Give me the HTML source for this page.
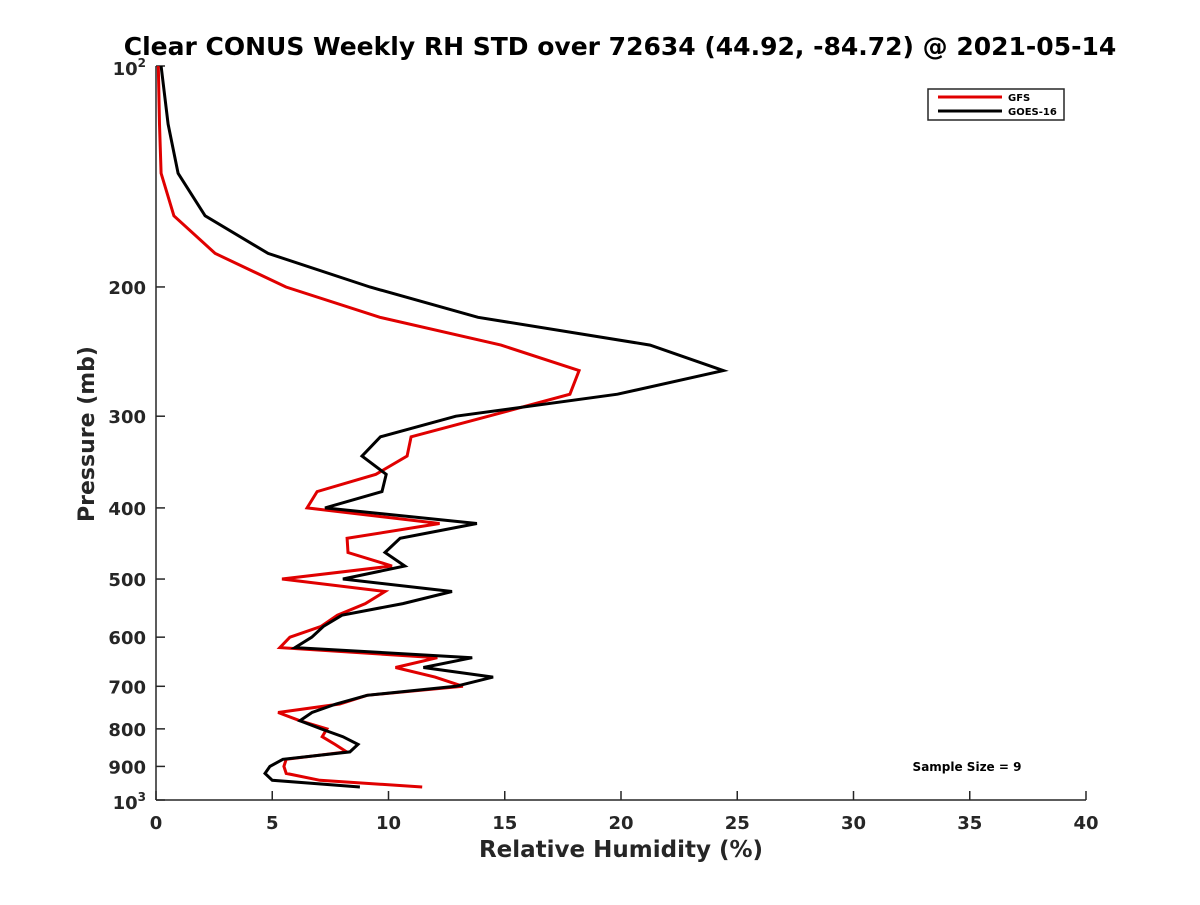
<!DOCTYPE html>
<html><head><meta charset="utf-8"><style>
body{margin:0;background:#fff}
svg text{font-family:"DejaVu Sans","Liberation Sans",sans-serif;font-weight:bold}
</style></head><body>
<svg width="1200" height="900" viewBox="0 0 1200 900" id="c">
<rect width="1200" height="900" fill="#fff"/>
<text x="620" y="55" font-size="25" text-anchor="middle" fill="#000">Clear CONUS Weekly RH STD over 72634 (44.92, -84.72) @ 2021-05-14</text>
<g id="axes"></g>
<g id="series"></g>
<text x="621" y="857" font-size="23" text-anchor="middle" fill="#262626">Relative Humidity (%)</text>
<text transform="translate(94,434) rotate(-90)" font-size="22" text-anchor="middle" fill="#262626">Pressure (mb)</text>
<g>
<rect x="928" y="89" width="136" height="31" fill="#fff" stroke="#262626" stroke-width="1.5"/>
<line x1="938" y1="97" x2="1002" y2="97" stroke="#e00000" stroke-width="3"/>
<text x="1008" y="101" font-size="10">GFS</text>
<line x1="938" y1="111" x2="1002" y2="111" stroke="#000" stroke-width="3"/>
<text x="1008" y="115" font-size="10">GOES-16</text>
</g>
<text x="967" y="771" font-size="12" text-anchor="middle">Sample Size = 9</text>
</svg>
<script>
const pressure=[100,120,140,160,180,200,220,240,260,280,300,320,340,360,380,400,420,440,460,480,500,520,540,560,580,600,620,640,660,680,700,720,740,760,780,800,820,840,860,880,900,920,940,960];
const goes=[0.22,0.52,0.95,2.11,4.82,9.2,13.85,21.25,24.4,19.85,12.9,9.65,8.86,9.9,9.72,7.27,13.8,10.5,9.85,10.7,8.04,12.73,10.62,8.0,7.2,6.7,5.98,13.6,11.5,14.5,12.9,9.08,7.74,6.71,6.19,7.1,8.04,8.69,8.34,5.46,4.9,4.69,5.0,8.77];
const gfs=[0.1,0.15,0.22,0.77,2.54,5.59,9.63,14.84,18.2,17.8,14.3,10.97,10.8,9.46,6.93,6.5,12.2,8.22,8.26,10.15,5.42,9.85,9.0,7.8,7.1,5.76,5.33,12.1,10.3,12.0,13.2,9.08,7.9,5.25,6.2,7.35,7.15,7.7,8.2,5.6,5.5,5.6,7.05,11.45];
const xTicks=[0,5,10,15,20,25,30,35,40];
const yTicks=[200,300,400,500,600,700,800,900];
const NS='http://www.w3.org/2000/svg';
const X0=156,X1=1086,Y0=66,Y1=800;
function xs(v){return X0+(v-0)/(40-0)*(X1-X0);}
function ys(p){return Y0+(Math.log10(p)-2)*(Y1-Y0);}
function mk(t,a,par){const e=document.createElementNS(NS,t);for(const k in a)e.setAttribute(k,a[k]);par.appendChild(e);return e;}
const ax=document.getElementById('axes');
let l=mk('line',{x1:X0,y1:Y0,x2:X0,y2:Y1,stroke:'#262626','stroke-width':1.5},ax);


l=mk('line',{x1:X0,y1:Y1,x2:X1,y2:Y1,stroke:'#262626','stroke-width':1.5},ax);


xTicks.forEach(v=>{
 const x=xs(v);
 const t=mk('line',{x1:x,y1:Y1,x2:x,y2:Y1-9,stroke:'#262626','stroke-width':1.5},ax);
 
 
 const tx=mk('text',{x:x,y:829,'font-size':18,'text-anchor':'middle',fill:'#262626'},ax);
 tx.textContent=v;
 
 
});
[100].concat(yTicks).concat([1000]).forEach(p=>{
 const y=ys(p);
 const t=mk('line',{x1:X0,y1:y,x2:X0+9,y2:y,stroke:'#262626','stroke-width':1.5},ax);
 
 
});
yTicks.forEach(p=>{
 const tx=mk('text',{x:146,y:ys(p)+7,'font-size':18,'text-anchor':'end',fill:'#262626'},ax);
 tx.textContent=p;
 
 
});
[[100,'2'],[1000,'3']].forEach(d=>{
 const tx=mk('text',{x:146,y:ys(d[0])+9,'font-size':18,'text-anchor':'end',fill:'#262626'},ax);
 tx.innerHTML='10<tspan font-size="12" dy="-8">'+d[1]+'</tspan>';
 
 
});
const sg=document.getElementById('series');
function line(vals,col,name){
 const pts=vals.map((v,i)=>xs(v).toFixed(1)+','+ys(pressure[i]).toFixed(1)).join(' ');
 const e=mk('polyline',{points:pts,fill:'none',stroke:col,'stroke-width':3,'stroke-linejoin':'miter'},sg);
 
 
}
line(gfs,'#e00000','gfs-line');
line(goes,'#000','goes-16-line');
</script>
</body></html>
